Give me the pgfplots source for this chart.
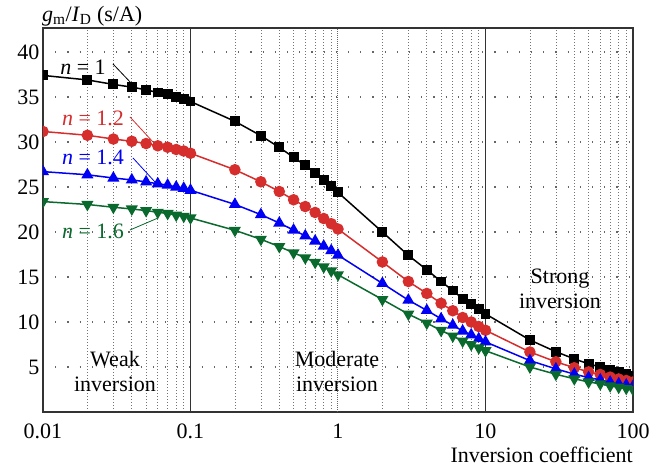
\documentclass[border=0pt]{standalone}
\usepackage{fontspec}
\setmainfont{Liberation Serif}
\usepackage{pgfplots}
\pgfplotsset{compat=1.18}
\definecolor{cred}{RGB}{214,45,45}
\definecolor{cblue}{RGB}{0,0,245}
\definecolor{cgreen}{RGB}{10,105,45}
\newcommand{\bigf}{\fontsize{22}{25}\selectfont}

\begin{document}
\begin{tikzpicture}
\useasboundingbox (-43pt,-58pt) rectangle (607pt,412pt);
\begin{axis}[
  at={(0pt,0pt)}, anchor=south west, scale only axis,
  width=590pt, height=384pt,
  xmode=log, xmin=0.01, xmax=100, ymin=0, ymax=42.67,
  xtick={0.01,0.1,1,10,100}, xticklabels={0.01,0.1,1,10,100},
  minor xtick={0.02,0.03,0.04,0.05,0.06,0.07,0.08,0.09,
               0.2,0.3,0.4,0.5,0.6,0.7,0.8,0.9,
               2,3,4,5,6,7,8,9,20,30,40,50,60,70,80,90},
  ytick={5,10,15,20,25,30,35,40},
  xminorgrids, ymajorgrids,
  minor x grid style={black!55, line width=0.7pt, dash pattern=on 0.8pt off 2.2pt},
  major y grid style={black!60, line width=1.1pt, dash pattern=on 1.2pt off 11pt},
  extra x ticks={1}, extra x tick labels={},
  extra x tick style={grid=major, major grid style={black!60, line width=1pt, dash pattern=on 1pt off 1pt}},
  major tick length=0pt, minor tick length=0pt,
  axis line style={black!80, line width=1.5pt},
  tick label style={font=\bigf},
  xticklabel style={yshift=-8pt},
  /pgf/number format/assume math mode=true,
  clip marker paths=true,
]
\draw[black!80, line width=1.6pt] (axis cs:0.1,0) -- (axis cs:0.1,42.67);
\draw[black!80, line width=1.6pt] (axis cs:10,0) -- (axis cs:10,42.67);

\addplot[black, line width=1.5pt, mark=square*, mark size=4.2pt] coordinates {
(0.01,37.4) (0.02,36.9) (0.03,36.4) (0.04,36.1) (0.05,35.8) (0.06,35.5)
(0.07,35.3) (0.08,35.0) (0.09,34.8) (0.1,34.5) (0.2,32.3) (0.3,30.7)
(0.4,29.4) (0.5,28.3) (0.6,27.4) (0.7,26.6) (0.8,25.8) (0.9,25.1)
(1,24.4) (2,20.0) (3,17.4) (4,15.8) (5,14.5) (6,13.5) (7,12.6) (8,12.0)
(9,11.4) (10,10.9) (20,8.0) (30,6.7) (40,5.9) (50,5.35) (60,5.0)
(70,4.65) (80,4.4) (90,4.2) (100,4.0)};

\addplot[cred, line width=1.5pt, mark=*, mark size=5pt] coordinates {
(0.01,31.17) (0.02,30.75) (0.03,30.33) (0.04,30.08) (0.05,29.83) (0.06,29.58)
(0.07,29.42) (0.08,29.17) (0.09,29.00) (0.1,28.75) (0.2,26.92) (0.3,25.58)
(0.4,24.50) (0.5,23.58) (0.6,22.83) (0.7,22.17) (0.8,21.50) (0.9,20.92)
(1,20.33) (2,16.67) (3,14.50) (4,13.17) (5,12.08) (6,11.25) (7,10.50) (8,10.00)
(9,9.50) (10,9.08) (20,6.67) (30,5.58) (40,4.92) (50,4.46) (60,4.17)
(70,3.88) (80,3.67) (90,3.50) (100,3.33)};

\addplot[cblue, line width=1.5pt, mark=triangle*, mark size=5.5pt] coordinates {
(0.01,26.71) (0.02,26.36) (0.03,26.00) (0.04,25.79) (0.05,25.57) (0.06,25.36)
(0.07,25.21) (0.08,25.00) (0.09,24.86) (0.1,24.64) (0.2,23.07) (0.3,21.93)
(0.4,21.00) (0.5,20.21) (0.6,19.57) (0.7,19.00) (0.8,18.43) (0.9,17.93)
(1,17.43) (2,14.29) (3,12.43) (4,11.29) (5,10.36) (6,9.64) (7,9.00) (8,8.57)
(9,8.14) (10,7.79) (20,5.71) (30,4.79) (40,4.21) (50,3.82) (60,3.57)
(70,3.32) (80,3.14) (90,3.00) (100,2.86)};

\addplot[cgreen, line width=1.5pt, mark=triangle*, mark size=5.5pt,
  mark options={rotate=180}] coordinates {
(0.01,23.38) (0.02,23.06) (0.03,22.75) (0.04,22.56) (0.05,22.38) (0.06,22.19)
(0.07,22.06) (0.08,21.88) (0.09,21.75) (0.1,21.56) (0.2,20.19) (0.3,19.19)
(0.4,18.38) (0.5,17.69) (0.6,17.13) (0.7,16.63) (0.8,16.13) (0.9,15.69)
(1,15.25) (2,12.50) (3,10.88) (4,9.88) (5,9.06) (6,8.44) (7,7.88) (8,7.50)
(9,7.13) (10,6.81) (20,5.00) (30,4.19) (40,3.69) (50,3.34) (60,3.13)
(70,2.91) (80,2.75) (90,2.63) (100,2.50)};
\end{axis}

% labels for the curves
\node[font=\bigf, black] at (40pt,345pt) {\textit{n} = 1};
\draw[black, line width=0.8pt] (70pt,348pt) -- (89pt,328pt);
\node[font=\bigf, cred] at (50pt,294pt) {\textit{n} = 1.2};
\draw[cred, line width=0.8pt] (87pt,295pt) -- (110pt,270pt);
\node[font=\bigf, cblue] at (50pt,255pt) {\textit{n} = 1.4};
\draw[cblue, line width=0.8pt] (90pt,254pt) -- (112pt,230pt);
\node[font=\bigf, cgreen] at (50pt,181pt) {\textit{n} = 1.6};
\draw[cgreen, line width=0.8pt] (87pt,182pt) -- (115pt,194pt);

% regions
\node[font=\bigf, align=center] at (72pt,41pt) {Weak\\inversion};
\node[font=\bigf, align=center] at (294pt,41pt) {Moderate\\inversion};
\node[font=\bigf, align=center] at (517pt,123pt) {Strong\\inversion};

% axis titles
\node[font=\bigf, anchor=west, inner sep=0pt] at (-1pt,396pt)
  {\textit{g}\textsubscript{m}/\textit{I}\textsubscript{D} (s/A)};
\node[font=\bigf, anchor=east, inner sep=0pt] at (590pt,-43pt) {Inversion coefficient};
\end{tikzpicture}
\end{document}
